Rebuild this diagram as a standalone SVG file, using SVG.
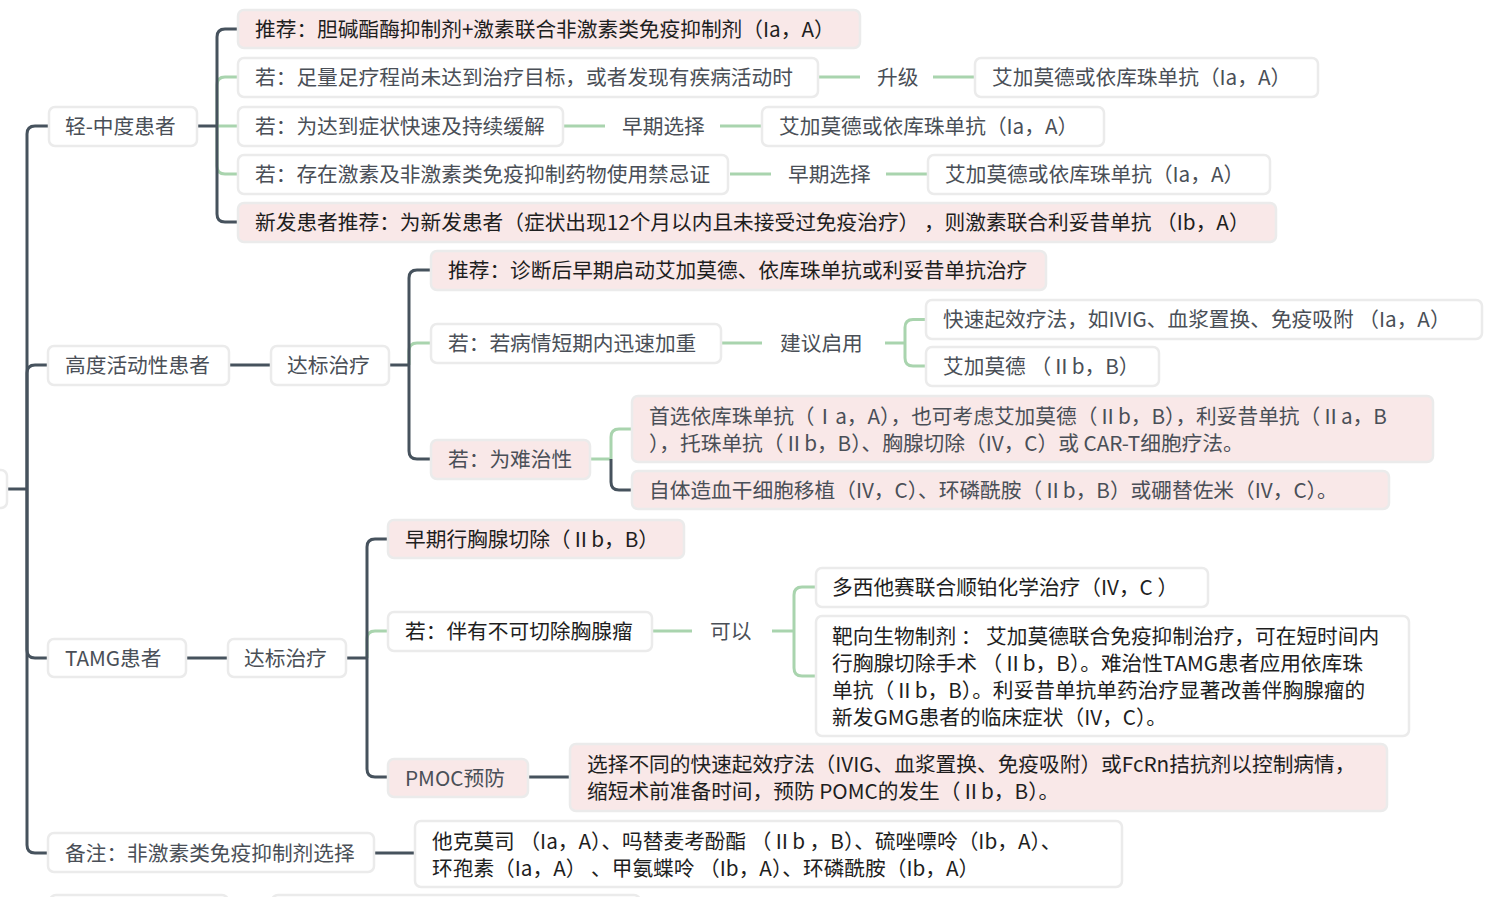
<svg xmlns="http://www.w3.org/2000/svg" width="1499" height="897" viewBox="0 0 1499 897">
<style>
.n{fill:#ffffff;stroke:#ebebeb;stroke-width:2.5}
.p{fill:#f9e8e8;stroke:#ebebeb;stroke-width:2.5}
text{font-family:"Microsoft YaHei","Noto Sans CJK SC","Noto Sans",sans-serif;font-size:20.7px}
.tb{fill:#1e1e1e}
.tg{fill:#4a4f57}
.d{fill:none;stroke:#46525d;stroke-width:3}
.g{fill:none;stroke:#a9d4ae;stroke-width:3}
</style>
<rect width="1499" height="897" fill="#ffffff"/>
<g id="connectors">
<path class="d" d="M7,489 H27"/>
<path class="d" d="M27,489 V134 Q27,126 35,126 H48"/>
<path class="d" d="M27,489 V373 Q27,365 35,365 H48"/>
<path class="d" d="M27,489 V650 Q27,658 35,658 H48"/>
<path class="d" d="M27,489 V845 Q27,853 35,853 H48"/>
<path class="g" d="M217,126 V85 Q217,77 225,77 H238"/>
<path class="g" d="M217,126 H238"/>
<path class="g" d="M217,126 V166 Q217,174 225,174 H238"/>
<path class="d" d="M197,126 H217"/>
<path class="d" d="M217,126 V37 Q217,29 225,29 H238"/>
<path class="d" d="M217,126 V214 Q217,222 225,222 H238"/>
<path class="g" d="M818,77 H860"/>
<path class="g" d="M933,77 H975"/>
<path class="g" d="M563,126 H605"/>
<path class="g" d="M720,126 H762"/>
<path class="g" d="M730,174 H771"/>
<path class="g" d="M886,174 H928"/>
<path class="d" d="M229,365 H271"/>
<path class="g" d="M409,365 V351 Q409,343 417,343 H431"/>
<path class="d" d="M389,365 H409"/>
<path class="d" d="M409,365 V278 Q409,270 417,270 H431"/>
<path class="d" d="M409,365 V451 Q409,459 417,459 H431"/>
<path class="g" d="M721,343 H762"/>
<path class="g" d="M885,343 H905"/>
<path class="g" d="M905,343 V327.5 Q905,319.5 913,319.5 H926"/>
<path class="g" d="M905,343 V358 Q905,366 913,366 H926"/>
<path class="g" d="M590,459 H611"/>
<path class="g" d="M611,459 V437 Q611,429 619,429 H632"/>
<path class="d" d="M611,459 V482 Q611,490 619,490 H632"/>
<path class="d" d="M186,658 H228"/>
<path class="g" d="M367,658 V639 Q367,631 375,631 H388"/>
<path class="d" d="M346,658 H367"/>
<path class="d" d="M367,658 V547 Q367,539 375,539 H388"/>
<path class="d" d="M367,658 V769 Q367,777 375,777 H388"/>
<path class="g" d="M652,631 H692"/>
<path class="g" d="M772,631 H794"/>
<path class="g" d="M794,631 V595 Q794,587 802,587 H816"/>
<path class="g" d="M794,631 V668 Q794,676 802,676 H816"/>
<path class="d" d="M528,777 H570"/>
<path class="d" d="M374,853 H415"/>
</g>
<g id="root"><rect class="n" x="-150" y="470" width="157" height="38" rx="6"/></g>
<g id="n-mild"><rect class="n" x="49" y="107" width="148" height="39" rx="6"/><text class="tg" x="65" y="134">轻-中度患者</text></g>
<g id="n-mild-rec"><rect class="p" x="238" y="10" width="622" height="38" rx="6"/><text class="tb" x="255" y="37">推荐：胆碱酯酶抑制剂+激素联合非激素类免疫抑制剂（Ia，A）</text></g>
<g id="n-mild-if1"><rect class="n" x="238" y="58" width="580" height="39" rx="6"/><text class="tg" x="255" y="85">若：足量足疗程尚未达到治疗目标，或者发现有疾病活动时</text></g>
<g id="l-up"><text class="tg" x="877" y="85">升级</text></g>
<g id="n-mild-r1"><rect class="n" x="975" y="58" width="343" height="39" rx="6"/><text class="tg" x="992" y="85">艾加莫德或依库珠单抗（Ia，A）</text></g>
<g id="n-mild-if2"><rect class="n" x="238" y="107" width="325" height="39" rx="6"/><text class="tg" x="255" y="134">若：为达到症状快速及持续缓解</text></g>
<g id="l-early1"><text class="tg" x="622" y="134">早期选择</text></g>
<g id="n-mild-r2"><rect class="n" x="762" y="107" width="342" height="39" rx="6"/><text class="tg" x="779" y="134">艾加莫德或依库珠单抗（Ia，A）</text></g>
<g id="n-mild-if3"><rect class="n" x="238" y="155" width="490" height="39" rx="6"/><text class="tg" x="255" y="182">若：存在激素及非激素类免疫抑制药物使用禁忌证</text></g>
<g id="l-early2"><text class="tg" x="788" y="182">早期选择</text></g>
<g id="n-mild-r3"><rect class="n" x="928" y="155" width="342" height="39" rx="6"/><text class="tg" x="945" y="182">艾加莫德或依库珠单抗（Ia，A）</text></g>
<g id="n-mild-new"><rect class="p" x="238" y="203" width="1038" height="39" rx="6"/><text class="tb" x="255" y="230">新发患者推荐：为新发患者（症状出现12个月以内且未接受过免疫治疗） ，则激素联合利妥昔单抗 （Ib，A）</text></g>
<g id="n-high"><rect class="n" x="48" y="346" width="181" height="39" rx="6"/><text class="tg" x="65" y="373">高度活动性患者</text></g>
<g id="n-high-goal"><rect class="n" x="271" y="346" width="118" height="39" rx="6"/><text class="tg" x="287" y="373">达标治疗</text></g>
<g id="n-high-rec"><rect class="p" x="431" y="251" width="615" height="39" rx="6"/><text class="tb" x="448" y="278">推荐：诊断后早期启动艾加莫德、依库珠单抗或利妥昔单抗治疗</text></g>
<g id="n-high-if1"><rect class="n" x="431" y="324" width="290" height="39" rx="6"/><text class="tg" x="448" y="351">若：若病情短期内迅速加重</text></g>
<g id="l-suggest"><text class="tg" x="780" y="351">建议启用</text></g>
<g id="n-high-fast"><rect class="n" x="926" y="300" width="556" height="39" rx="6"/><text class="tg" x="943" y="327">快速起效疗法，如IVIG、血浆置换、免疫吸附 （Ia，A）</text></g>
<g id="n-high-efg"><rect class="n" x="926" y="347" width="233" height="39" rx="6"/><text class="tg" x="943" y="374">艾加莫德 （Ⅱb，B）</text></g>
<g id="n-high-if2"><rect class="p" x="431" y="440" width="159" height="39" rx="6"/><text class="tg" x="448" y="467">若：为难治性</text></g>
<g id="n-high-ref1"><rect class="p" x="632" y="396" width="801" height="66" rx="6"/><text class="tg"><tspan x="649" y="424">首选依库珠单抗（Ⅰa，A），也可考虑艾加莫德（Ⅱb，B），利妥昔单抗（Ⅱa，B</tspan><tspan x="649" y="451">），托珠单抗（Ⅱb，B）、胸腺切除（IV，C）或 CAR-T细胞疗法。</tspan></text></g>
<g id="n-high-ref2"><rect class="p" x="632" y="471" width="757" height="38" rx="6"/><text class="tg" x="649" y="498">自体造血干细胞移植（IV，C）、环磷酰胺（Ⅱb，B）或硼替佐米（IV，C）。</text></g>
<g id="n-tamg"><rect class="n" x="48" y="639" width="138" height="38" rx="6"/><text class="tg" x="65" y="666">TAMG患者</text></g>
<g id="n-tamg-goal"><rect class="n" x="228" y="639" width="118" height="38" rx="6"/><text class="tg" x="244" y="666">达标治疗</text></g>
<g id="n-tamg-early"><rect class="p" x="388" y="520" width="296" height="38" rx="6"/><text class="tb" x="405" y="547">早期行胸腺切除（Ⅱb，B）</text></g>
<g id="n-tamg-if"><rect class="n" x="388" y="612" width="264" height="39" rx="6"/><text class="tb" x="405" y="639">若：伴有不可切除胸腺瘤</text></g>
<g id="l-can"><text class="tg" x="710" y="639">可以</text></g>
<g id="n-tamg-chemo"><rect class="n" x="816" y="568" width="392" height="39" rx="6"/><text class="tb" x="832" y="595">多西他赛联合顺铂化学治疗（IV，C ）</text></g>
<g id="n-tamg-bio"><rect class="n" x="816" y="616" width="593" height="120" rx="6"/><text class="tb"><tspan x="832" y="644">靶向生物制剂 ： 艾加莫德联合免疫抑制治疗，可在短时间内</tspan><tspan x="832" y="671">行胸腺切除手术 （Ⅱb，B）。难治性TAMG患者应用依库珠</tspan><tspan x="832" y="698">单抗（Ⅱb，B）。利妥昔单抗单药治疗显著改善伴胸腺瘤的</tspan><tspan x="832" y="725">新发GMG患者的临床症状（IV，C）。</tspan></text></g>
<g id="n-tamg-pmoc"><rect class="p" x="388" y="759" width="140" height="38" rx="6"/><text class="tg" x="405" y="786">PMOC预防</text></g>
<g id="n-tamg-pmoc-txt"><rect class="p" x="570" y="744" width="817" height="67" rx="6"/><text class="tb"><tspan x="587" y="772">选择不同的快速起效疗法（IVIG、血浆置换、免疫吸附）或FcRn拮抗剂以控制病情，</tspan><tspan x="587" y="799">缩短术前准备时间，预防 POMC的发生（Ⅱb，B）。</tspan></text></g>
<g id="n-note"><rect class="n" x="48" y="833" width="326" height="39" rx="6"/><text class="tg" x="65" y="861">备注：非激素类免疫抑制剂选择</text></g>
<g id="n-note-txt"><rect class="n" x="415" y="821" width="707" height="66" rx="6"/><text class="tb"><tspan x="432" y="849">他克莫司 （Ia，A）、吗替麦考酚酯 （Ⅱb ，B）、硫唑嘌呤（Ib，A）、</tspan><tspan x="432" y="876">环孢素（Ia，A） 、甲氨蝶呤 （Ib，A）、环磷酰胺（Ib，A）</tspan></text></g>
<g id="n-cut1"><rect class="n" x="50" y="895" width="178" height="40" rx="6"/></g>
<g id="n-cut2"><rect class="n" x="272" y="895" width="368" height="40" rx="6"/></g>
</svg>
